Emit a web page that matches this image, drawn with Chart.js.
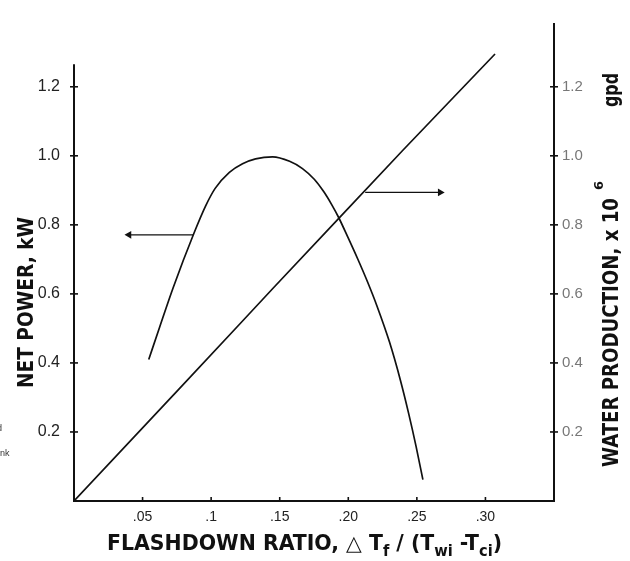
<!DOCTYPE html>
<html>
<head>
<meta charset="utf-8">
<script src="https://cdn.jsdelivr.net/npm/chart.js@4/dist/chart.umd.min.js"></script>
<style>
  html, body { margin: 0; padding: 0; background: #ffffff; }
  #wrap { width: 630px; height: 561px; position: relative; }
</style>
</head>
<body>
<div id="wrap"><canvas id="c" width="630" height="561"></canvas></div>
<script>
// ---------------- data ----------------
const xTickValues = [0.05, 0.10, 0.15, 0.20, 0.25, 0.30];
const xTickLabels = ['.05', '.1', '.15', '.20', '.25', '.30'];
const yTickValues = [0.2, 0.4, 0.6, 0.8, 1.0, 1.2];
const netPowerTickLabels = ['0.2', '0.4', '0.6', '0.8', '1.0', '1.2'];
const waterTickLabels = ['0.2', '0.4', '0.6', '0.8', '1.0', '1.2'];

// Net power, kW (left axis) vs flashdown ratio
const netPowerX = [0.0545, 0.0623, 0.0723, 0.0876, 0.0960, 0.1028, 0.1133, 0.1229, 0.1324, 0.1448,
                   0.1572, 0.1666, 0.1752, 0.1823, 0.1880, 0.1929, 0.1996, 0.2069, 0.2140, 0.2209,
                   0.2300, 0.2380, 0.2440, 0.2495, 0.2544];
const netPowerY = [0.410, 0.502, 0.618, 0.777, 0.855, 0.905, 0.952, 0.977, 0.991, 0.997,
                   0.984, 0.963, 0.932, 0.895, 0.858, 0.822, 0.765, 0.701, 0.635, 0.565,
                   0.461, 0.350, 0.254, 0.157, 0.062];

// Water production, x 10^6 gpd (right axis) vs flashdown ratio
const waterX = [0, 0.076, 0.1207, 0.1453, 0.1929, 0.2398, 0.307];
const waterY = [0, 0.322, 0.512, 0.617, 0.818, 1.016, 1.295];

// Pointer arrows (which curve belongs to which axis)
const leftArrowX = [0.0401, 0.0868];
const leftArrowY = [0.771, 0.771];
const rightArrowX = [0.2123, 0.2670];
const rightArrowY = [0.894, 0.894];

// Axis titles
const leftTitleText = 'NET POWER, kW';
const rightTitleMain = 'WATER PRODUCTION, x 10';
const rightTitleSup = '6';
const rightTitleUnit = 'gpd';
// [text, 0 = normal, 1 = subscript]
const xTitleParts = [['FLASHDOWN RATIO, \u25B3 T', 0], ['f', 1], [' / (T', 0], ['wi', 1], [' -T', 0], ['ci', 1], [')', 0]];
// cropped fragments of neighbouring page text at far left
const strayTexts = ['d', 'nk'];

// ---------------- style / layout constants ----------------
const X_MAX = 0.35;
const Y_MAX = 1.383;
const LEFT_AXIS_TOP = 1.265;
const INK = '#111111';
const TICK_FONT = '"Liberation Sans", Arial, Helvetica, sans-serif';
const TITLE_FONT = '"DejaVu Sans Condensed", "Liberation Sans Narrow", "DejaVu Sans", sans-serif';

function toPoints(xs, ys) { return xs.map((x, i) => ({ x: x, y: ys[i] })); }
function labelFor(values, labels, v) {
  const i = values.findIndex(t => Math.abs(t - v) < 1e-9);
  return i >= 0 ? labels[i] : '';
}

const decorPlugin = {
  id: 'decor',
  afterDraw(chart) {
    const ctx = chart.ctx;
    const ca = chart.chartArea;
    const xs = chart.scales.x, yl = chart.scales.y, yr = chart.scales.y2;
    ctx.save();
    ctx.strokeStyle = INK;
    ctx.lineCap = 'butt';
    // left axis line (stops short of the top)
    ctx.lineWidth = 2;
    ctx.beginPath();
    ctx.moveTo(ca.left, yl.getPixelForValue(0) + 1);
    ctx.lineTo(ca.left, yl.getPixelForValue(LEFT_AXIS_TOP));
    ctx.stroke();
    // crossing tick marks
    ctx.lineWidth = 1.6;
    yTickValues.forEach(v => {
      const p = yl.getPixelForValue(v);
      ctx.beginPath(); ctx.moveTo(ca.left - 4, p); ctx.lineTo(ca.left + 4, p); ctx.stroke();
      const q = yr.getPixelForValue(v);
      ctx.beginPath(); ctx.moveTo(ca.right - 4, q); ctx.lineTo(ca.right + 4, q); ctx.stroke();
    });
    xTickValues.forEach(v => {
      const p = xs.getPixelForValue(v);
      ctx.beginPath(); ctx.moveTo(p, ca.bottom); ctx.lineTo(p, ca.bottom - 4); ctx.stroke();
    });
    ctx.fillStyle = INK;
    ctx.textBaseline = 'alphabetic';
    ctx.textAlign = 'left';

    // left title
    {
      const size = 22, targetW = 171;
      ctx.save();
      ctx.translate(25 + size * 0.36, 388);
      ctx.rotate(-Math.PI / 2);
      ctx.font = 'bold ' + size + 'px ' + TITLE_FONT;
      const w = ctx.measureText(leftTitleText).width;
      ctx.scale(targetW / w, 1);
      ctx.fillText(leftTitleText, 0, 0);
      ctx.restore();
    }
    // right title
    {
      const size = 21;
      ctx.save();
      ctx.translate(610 + size * 0.36, 467);
      ctx.rotate(-Math.PI / 2);
      ctx.font = 'bold ' + size + 'px ' + TITLE_FONT;
      let w = ctx.measureText(rightTitleMain).width;
      ctx.save(); ctx.scale(269 / w, 1); ctx.fillText(rightTitleMain, 0, 0); ctx.restore();
      ctx.font = 'bold 12px ' + TITLE_FONT;
      w = ctx.measureText(rightTitleSup).width;
      ctx.save(); ctx.translate(277, -15); ctx.scale(9 / w, 1); ctx.fillText(rightTitleSup, 0, 0); ctx.restore();
      ctx.font = 'bold ' + size + 'px ' + TITLE_FONT;
      w = ctx.measureText(rightTitleUnit).width;
      ctx.save(); ctx.translate(360, 0); ctx.scale(34 / w, 1); ctx.fillText(rightTitleUnit, 0, 0); ctx.restore();
      ctx.restore();
    }
    // x title
    {
      const size = 21, subSize = 15, targetW = 395, x0 = 107, base = 542 + size * 0.36;
      const widths = xTitleParts.map(([t, k]) => {
        ctx.font = 'bold ' + (k ? subSize : size) + 'px ' + TITLE_FONT;
        return ctx.measureText(t).width;
      });
      const total = widths.reduce((a, b) => a + b, 0);
      ctx.save();
      ctx.translate(x0, base);
      ctx.scale(targetW / total, 1);
      let x = 0;
      xTitleParts.forEach(([t, k], i) => {
        ctx.font = 'bold ' + (k ? subSize : size) + 'px ' + TITLE_FONT;
        ctx.fillText(t, x, k ? 6 : 0);
        x += widths[i];
      });
      ctx.restore();
    }
    // stray fragments
    ctx.font = '9px ' + TICK_FONT;
    ctx.fillStyle = '#333';
    ctx.fillText(strayTexts[0], -3, 431);
    ctx.fillText(strayTexts[1], 0, 456);
    ctx.restore();
  }
};

const lineStyle = { borderColor: INK, borderWidth: 1.7, pointRadius: 0, showLine: true, fill: false };

new Chart(document.getElementById('c'), {
  type: 'scatter',
  data: {
    datasets: [
      Object.assign({ label: 'Net power', data: toPoints(netPowerX, netPowerY), yAxisID: 'y',
        cubicInterpolationMode: 'monotone' }, lineStyle),
      Object.assign({ label: 'Water production', data: toPoints(waterX, waterY), yAxisID: 'y2',
        tension: 0 }, lineStyle),
      { label: 'arrow left', data: toPoints(leftArrowX, leftArrowY), yAxisID: 'y', showLine: true,
        borderColor: INK, borderWidth: 1.4, pointStyle: 'triangle', rotation: 270,
        pointRadius: [4.5, 0], backgroundColor: INK, pointBorderWidth: 0 },
      { label: 'arrow right', data: toPoints(rightArrowX, rightArrowY), yAxisID: 'y', showLine: true,
        borderColor: INK, borderWidth: 1.4, pointStyle: 'triangle', rotation: 90,
        pointRadius: [0, 4.5], backgroundColor: INK, pointBorderWidth: 0 }
    ]
  },
  options: {
    responsive: false,
    animation: false,
    layout: { padding: { top: 10, left: 0, right: 0, bottom: 0 } },
    plugins: { legend: { display: false }, tooltip: { enabled: false } },
    scales: {
      x: {
        type: 'linear', position: 'bottom', min: 0, max: X_MAX,
        afterBuildTicks: s => { s.ticks = xTickValues.map(v => ({ value: v })); },
        afterFit: s => { s.height = 60; },
        grid: { display: false, drawTicks: false },
        border: { display: true, color: INK, width: 2 },
        ticks: { autoSkip: false, maxRotation: 0, padding: 8, color: '#222',
          font: { family: TICK_FONT, size: 14 },
          callback: v => labelFor(xTickValues, xTickLabels, v) }
      },
      y: {
        type: 'linear', position: 'left', min: 0, max: Y_MAX,
        afterBuildTicks: s => { s.ticks = yTickValues.map(v => ({ value: v })); },
        afterFit: s => { s.width = 74; },
        grid: { display: false, drawTicks: false },
        border: { display: false },
        ticks: { padding: 14, color: '#222', font: { family: TICK_FONT, size: 16 },
          callback: v => labelFor(yTickValues, netPowerTickLabels, v) }
      },
      y2: {
        type: 'linear', position: 'right', min: 0, max: Y_MAX,
        afterBuildTicks: s => { s.ticks = yTickValues.map(v => ({ value: v })); },
        afterFit: s => { s.width = 76; },
        grid: { display: false, drawTicks: false },
        border: { display: true, color: INK, width: 2 },
        ticks: { padding: 8, color: '#777', font: { family: TICK_FONT, size: 15 },
          callback: v => labelFor(yTickValues, waterTickLabels, v) }
      }
    }
  },
  plugins: [decorPlugin]
});
</script>
</body>
</html>
